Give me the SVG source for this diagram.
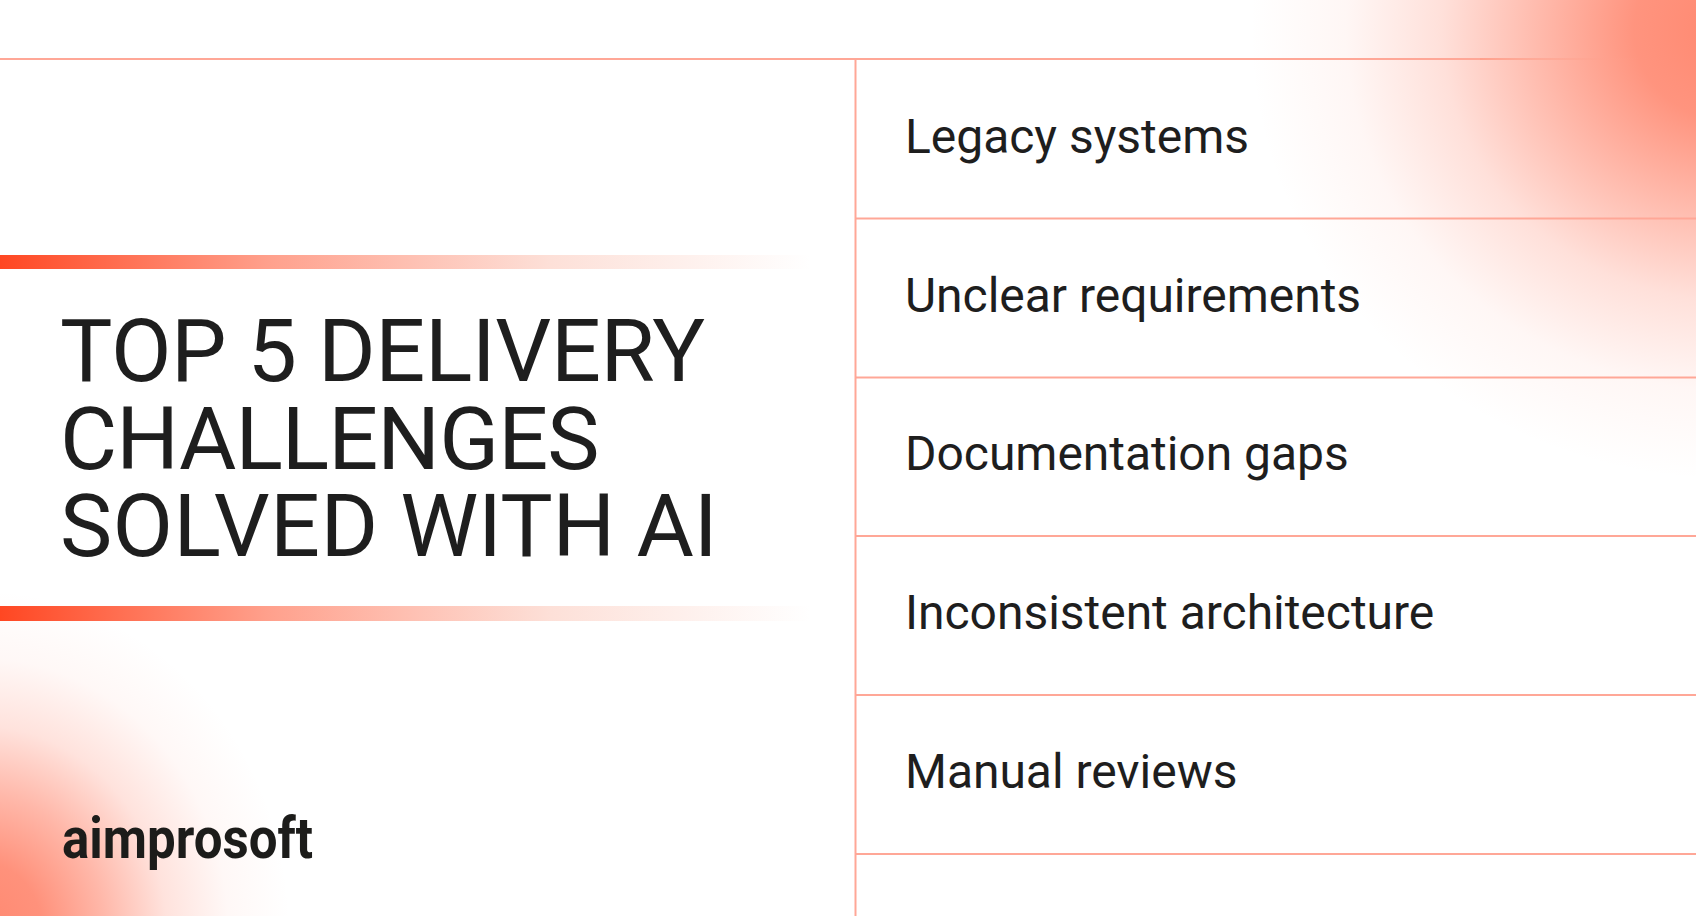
<svg xmlns="http://www.w3.org/2000/svg" width="1696" height="916" viewBox="0 0 1696 916">
<style>
.t{font-family:"Roboto","Liberation Sans",sans-serif;fill:#1e1e1e}
.h{font-size:88px}
.i{font-size:48px;letter-spacing:-.03px}
.l{stroke:#ffa797;stroke-width:2;fill:none}
</style>
<defs>
<radialGradient id="gt" gradientUnits="userSpaceOnUse" cx="0" cy="0" r="1" gradientTransform="translate(1730 30) scale(480 450)">
<stop offset="0" stop-color="#ff8870"/><stop offset=".2" stop-color="#ff8870" stop-opacity=".9"/><stop offset=".4" stop-color="#ff8870" stop-opacity=".58"/><stop offset=".6" stop-color="#ff8870" stop-opacity=".26"/><stop offset=".8" stop-color="#ff8870" stop-opacity=".07"/><stop offset="1" stop-color="#ff8870" stop-opacity="0"/>
</radialGradient>
<radialGradient id="gb" gradientUnits="userSpaceOnUse" cx="0" cy="0" r="1" gradientTransform="translate(-20 930) scale(310 340)">
<stop offset="0" stop-color="#ff8870"/><stop offset=".2" stop-color="#ff8870" stop-opacity=".92"/><stop offset=".4" stop-color="#ff8870" stop-opacity=".6"/><stop offset=".6" stop-color="#ff8870" stop-opacity=".24"/><stop offset=".8" stop-color="#ff8870" stop-opacity=".06"/><stop offset="1" stop-color="#ff8870" stop-opacity="0"/>
</radialGradient>
<linearGradient id="bar"><stop offset="0" stop-color="#ff4722"/><stop offset=".03" stop-color="#ff4f2c"/><stop offset=".33" stop-color="#ffa08c"/><stop offset=".68" stop-color="#fde0d8"/><stop offset="1" stop-color="#fff"/></linearGradient>
<linearGradient id="topline" gradientUnits="userSpaceOnUse" x1="1480" y1="0" x2="1640" y2="0"><stop offset="0" stop-color="#ffa08c"/><stop offset="1" stop-color="#ffa08c" stop-opacity="0"/></linearGradient>
</defs>
<rect width="1696" height="916" fill="#fff"/>
<rect x="1200" width="496" height="480" fill="url(#gt)"/>
<rect y="590" width="360" height="326" fill="url(#gb)"/>
<g id="connectors">
<rect x="0" y="58" width="1696" height="2" fill="url(#topline)"/>
<path class="l" d="M0 59H1480M855.500 59V916M856 218.500H1696M856 377.500H1696M856 536H1696M856 695H1696M856 854H1696"/>
</g>
<g id="bars">
<rect y="255" width="810" height="14" fill="url(#bar)"/>
<rect y="606" width="810" height="15" fill="url(#bar)"/>
</g>
<g id="title">
<text class="t h" x="60" y="381" letter-spacing="-.42">TOP 5 DELIVERY</text>
<text class="t h" x="60" y="469" letter-spacing="-.95">CHALLENGES</text>
<text class="t h" x="60" y="556"><tspan letter-spacing=".35">SOLVED</tspan><tspan letter-spacing="-.28"> WITH AI</tspan></text>
</g>
<g id="item-1"><text class="t i" x="905" y="153">Legacy systems</text></g>
<g id="item-2"><text class="t i" x="905" y="312">Unclear requirements</text></g>
<g id="item-3"><text class="t i" x="905" y="470">Documentation gaps</text></g>
<g id="item-4"><text class="t i" x="905" y="629">Inconsistent architecture</text></g>
<g id="item-5"><text class="t i" x="905" y="788">Manual reviews</text></g>
<g id="logo"><text x="62" y="858" font-family="Roboto,sans-serif" font-weight="700" font-size="58" fill="#1c1c1a" textLength="251" lengthAdjust="spacingAndGlyphs">aimprosoft</text></g>
</svg>
